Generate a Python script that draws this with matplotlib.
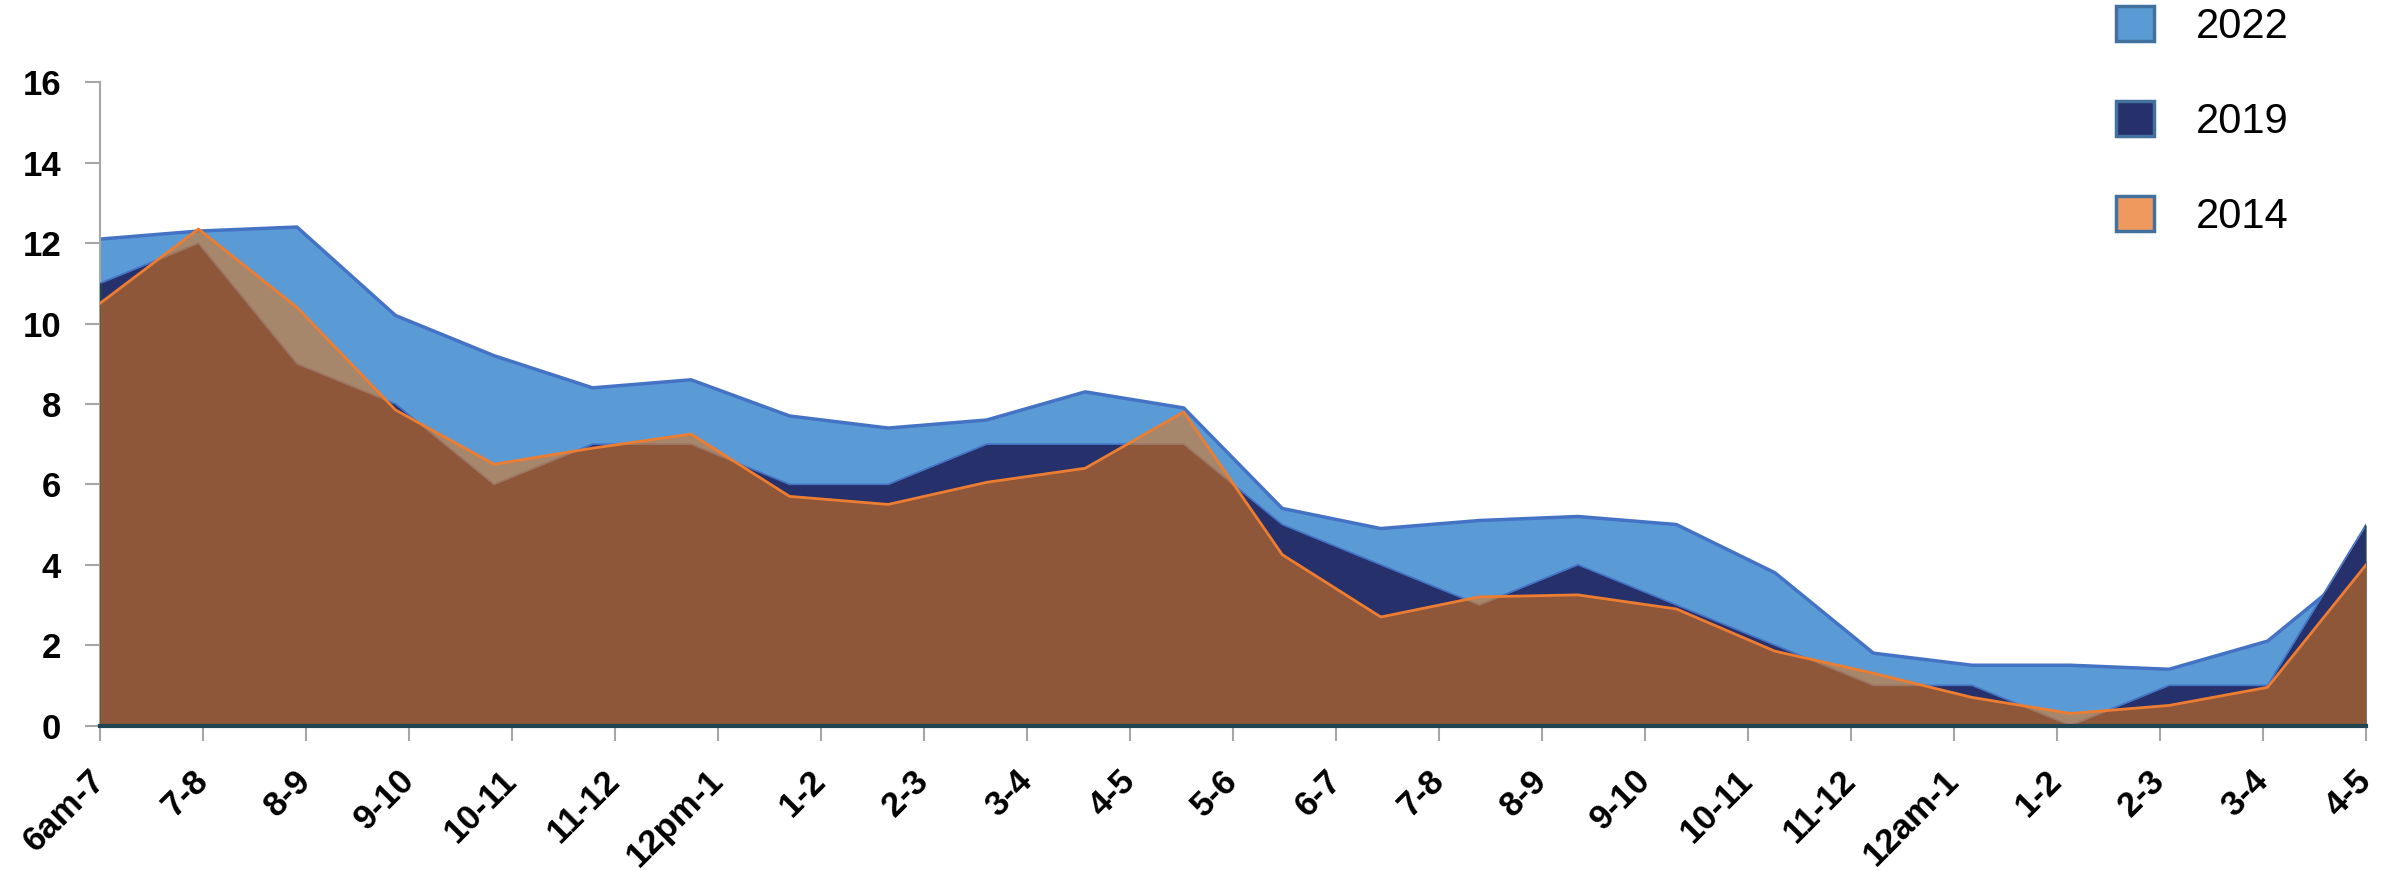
import numpy as np
import matplotlib
matplotlib.use('Agg')
import matplotlib.pyplot as plt
from matplotlib.patches import Patch

plt.rcParams['font.family'] = ['Liberation Sans', 'DejaVu Sans']

# hourly slots (tick labels) and the three survey years
hours = ['6am-7', '7-8', '8-9', '9-10', '10-11', '11-12', '12pm-1', '1-2',
         '2-3', '3-4', '4-5', '5-6', '6-7', '7-8', '8-9', '9-10', '10-11',
         '11-12', '12am-1', '1-2', '2-3', '3-4', '4-5']

y2022 = [12.1, 12.3, 12.4, 10.2, 9.2, 8.4, 8.6, 7.7, 7.4, 7.6, 8.3, 7.9,
         5.4, 4.9, 5.1, 5.2, 5.0, 3.8, 1.8, 1.5, 1.5, 1.4, 2.1, 4.1]
y2019 = [11.0, 12.0, 9.0, 8.0, 6.0, 7.0, 7.0, 6.0, 6.0, 7.0, 7.0, 7.0,
         5.0, 4.0, 3.0, 4.0, 3.0, 2.0, 1.0, 1.0, 0.0, 1.0, 1.0, 5.0]
y2014 = [10.5, 12.35, 10.4, 7.85, 6.5, 6.9, 7.25, 5.7, 5.5, 6.05, 6.4, 7.8,
         4.25, 2.7, 3.2, 3.25, 2.9, 1.85, 1.3, 0.7, 0.3, 0.5, 0.95, 4.0]

x = np.arange(len(y2022))

fig = plt.figure(figsize=(23.9, 8.71), dpi=100)
ax = fig.add_axes([0.0418, 0.167, 0.9482, 0.7385])

# back to front: 2022, 2019, then translucent 2014
ax.fill_between(x, 0, y2022, color='#5B9BD5', lw=0, zorder=1)
ax.plot(x, y2022, color='#4472C4', lw=2.5, zorder=2)
ax.fill_between(x, 0, y2019, color='#26306A', lw=0, zorder=3)
ax.plot(x, y2019, color='#4472C4', lw=1.2, zorder=4)
ax.vlines([x[0], x[-1]], 0, [y2019[0], y2019[-1]], color='#1F4452', lw=2.5, zorder=4)
ax.fill_between(x, 0, y2014, color='#E67814', alpha=0.55, lw=0, zorder=5)
ax.plot(x, y2014, color='#ED7D31', lw=2, zorder=6)

ax.set_xlim(x[0], x[-1])
ax.set_ylim(0, 16)
ax.set_yticks(range(0, 17, 2))
ax.set_xticks(np.linspace(x[0], x[-1], len(hours)))
ax.set_xticklabels(hours, rotation=45, ha='right', va='center',
                   rotation_mode='anchor')

for s in ['top', 'right']:
    ax.spines[s].set_visible(False)
ax.spines['left'].set_color('#A6A6A6')
ax.spines['left'].set_linewidth(1.5)
ax.spines['bottom'].set_color('#1F4452')
ax.spines['bottom'].set_linewidth(3)
ax.spines['bottom'].set_zorder(7)

ax.tick_params(axis='both', colors='#A6A6A6', length=11, width=1.5,
               labelcolor='black')
ax.tick_params(axis='y', pad=17, labelsize=25)
ax.tick_params(axis='x', pad=25, labelsize=25)
for lab in ax.get_xticklabels() + ax.get_yticklabels():
    lab.set_fontweight('bold')

handles = [Patch(facecolor='#5B9BD5', edgecolor='#41719C', lw=2.5),
           Patch(facecolor='#26306A', edgecolor='#41719C', lw=2.5),
           Patch(facecolor='#F0995F', edgecolor='#41719C', lw=2.5)]
fig.legend(handles, ['2022', '2019', '2014'], loc='upper left',
           bbox_to_anchor=(0.8854, 0.993), frameon=False, fontsize=30,
           handlelength=0.91, handleheight=0.91, handletextpad=1.0,
           labelspacing=1.3, borderpad=0, borderaxespad=0)

fig.savefig('out.png', dpi=100)
